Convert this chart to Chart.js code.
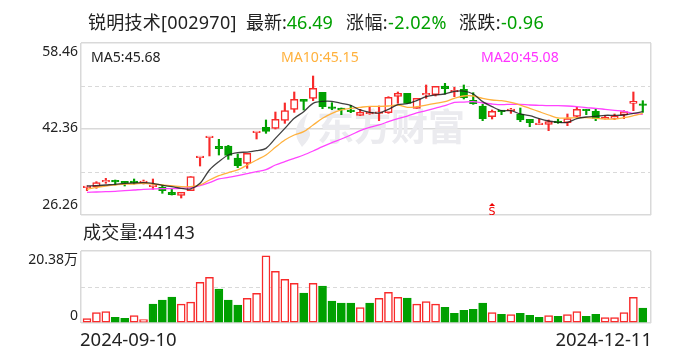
<!DOCTYPE html>
<html>
<head>
<meta charset="utf-8">
<title>锐明技术</title>
<script src="https://cdn.jsdelivr.net/npm/chart.js@4"></script>
<style>
  html, body { margin: 0; padding: 0; background: #fff; }
  #wrap { position: relative; width: 688px; height: 360px; overflow: hidden; font-family: "Noto Sans", "Noto Sans CJK SC", sans-serif; color: #222; }
  #wrap canvas { position: absolute; left: 0; }
  #wrap span.t { position: absolute; white-space: nowrap; line-height: 20px; }
  .big { font-size: 18px; }
  .small { font-size: 14.1px; }
  .down { color: #00a000; }
</style>
</head>
<body>
<div id="wrap">
  <canvas id="priceChart" width="688" height="225" style="top:0"></canvas>
  <canvas id="volumeChart" width="688" height="135" style="top:225px"></canvas>
  <span class="t big" style="left:88px;top:12px;letter-spacing:0.25px">锐明技术[002970]</span>
  <span class="t big" style="left:246px;top:12px">最新:<span class="down">46.49</span></span>
  <span class="t big" style="left:346px;top:12px;letter-spacing:0.4px">涨幅:<span class="down">-2.02%</span></span>
  <span class="t big" style="left:459px;top:12px;letter-spacing:0.35px">涨跌:<span class="down">-0.96</span></span>
  <span class="t small" style="left:91px;top:47px">MA5:45.68</span>
  <span class="t small" style="left:281px;top:47px;color:#ffb13d">MA10:45.15</span>
  <span class="t small" style="left:481px;top:47px;color:#ff33ff">MA20:45.08</span>
  <span class="t big" style="left:83px;top:222px;letter-spacing:0.2px">成交量:44143</span>
</div>
<script>
const dates = ['2024-09-10', '2024-12-11'];
const priceTicks = [58.46, 50.41, 42.36, 34.31, 26.26];
const priceLabels = ['58.46', '42.36', '26.26'];
const volumeTicks = [20.38, 10.19, 0];
const volumeLabels = ['20.38万', '0'];

const opens = [31.38, 31.57, 32.44, 32.56, 32.56, 32.50, 32.31, 31.57, 31.44, 30.50,
  29.94, 30.82, 36.99, 40.74, 39.12, 39.18, 36.93, 35.93, 41.67, 42.67,
  42.49, 43.98, 46.04, 47.91, 48.10, 49.22, 46.35, 46.29, 45.92, 44.92,
  45.17, 45.29, 45.42, 48.48, 49.04, 46.23, 48.73, 48.79, 50.41, 49.29,
  49.79, 47.73, 46.67, 44.67, 45.86, 45.79, 45.17, 44.17, 43.17, 43.23,
  43.73, 43.55, 44.73, 46.04, 45.67, 44.23, 44.36, 44.98, 47.17, 46.92];
const closes = [31.69, 32.31, 32.56, 32.44, 32.19, 32.31, 32.44, 31.69, 30.82, 30.07,
  30.50, 33.44, 37.12, 40.86, 38.68, 37.43, 35.50, 37.80, 41.80, 41.92,
  44.17, 45.79, 47.91, 47.54, 49.97, 46.54, 46.23, 45.92, 45.60, 45.48,
  45.54, 45.48, 48.29, 49.04, 47.17, 48.10, 48.85, 50.35, 49.91, 49.54,
  48.23, 47.10, 44.30, 45.67, 45.60, 45.92, 44.05, 43.55, 43.30, 43.73,
  43.55, 44.30, 46.04, 45.79, 44.36, 44.36, 44.73, 45.60, 47.54, 46.79];
const highs = [31.69, 32.50, 33.12, 32.81, 32.56, 33.00, 32.81, 33.00, 31.88, 31.13,
  30.50, 33.44, 37.12, 40.86, 40.43, 39.30, 37.68, 37.80, 41.80, 44.05,
  45.54, 47.23, 49.29, 47.91, 52.28, 49.22, 47.29, 46.29, 46.79, 46.04,
  46.54, 46.67, 48.41, 49.29, 49.04, 48.10, 50.60, 50.35, 50.91, 50.16,
  50.60, 49.16, 46.98, 45.92, 45.86, 46.23, 46.29, 44.17, 44.23, 44.05,
  44.17, 45.17, 46.42, 46.04, 46.04, 44.86, 45.17, 45.79, 49.29, 47.66];
const lows = [30.82, 31.26, 32.19, 31.88, 31.69, 32.06, 32.06, 31.07, 30.32, 30.00,
  29.44, 30.82, 35.43, 37.31, 37.49, 36.68, 35.12, 35.00, 40.49, 41.55,
  42.36, 43.42, 45.48, 45.92, 47.66, 46.17, 45.98, 45.04, 45.42, 44.86,
  45.11, 43.92, 45.29, 47.17, 47.17, 46.23, 48.10, 48.54, 48.91, 48.41,
  47.98, 46.98, 43.92, 44.23, 45.04, 45.29, 43.73, 42.80, 43.17, 42.05,
  43.42, 42.98, 44.67, 45.04, 43.92, 44.23, 44.11, 44.30, 45.79, 45.48];

const ma5 = [31.69, 31.75, 31.88, 32.00, 32.19, 32.25, 32.31, 32.19, 31.81, 31.57,
  31.25, 31.13, 32.19, 34.69, 36.25, 37.49, 37.93, 38.05, 38.30, 38.74,
  40.61, 42.48, 44.36, 45.60, 47.17, 47.54, 47.54, 47.17, 46.79, 45.92,
  45.48, 45.36, 46.04, 46.92, 47.10, 47.66, 48.41, 48.73, 48.91, 49.41,
  49.47, 48.91, 47.48, 46.54, 45.79, 45.79, 45.17, 44.86, 44.30, 43.86,
  43.61, 43.61, 44.30, 44.61, 44.73, 44.92, 44.92, 44.98, 45.29, 45.60];
const ma10 = [31.07, 31.44, 31.69, 31.88, 32.06, 32.06, 32.19, 32.06, 31.88, 31.75,
  31.57, 31.57, 31.88, 32.81, 33.62, 34.19, 34.69, 35.62, 36.56, 37.49,
  38.93, 40.30, 41.24, 41.86, 43.11, 44.36, 45.29, 45.92, 46.23, 46.42,
  46.60, 46.60, 46.67, 46.85, 46.42, 46.54, 46.85, 47.17, 47.48, 48.10,
  48.54, 48.54, 48.10, 47.79, 47.66, 47.35, 46.85, 46.23, 45.60, 44.98,
  44.42, 44.42, 44.48, 44.48, 44.36, 44.23, 44.23, 44.48, 44.86, 45.29];
const ma20 = [30.50, 30.57, 30.63, 30.69, 30.82, 30.94, 31.07, 31.13, 31.19, 31.19,
  31.25, 31.38, 31.75, 32.31, 33.00, 33.31, 33.62, 34.00, 34.37, 34.75,
  35.62, 36.25, 36.87, 37.49, 38.24, 39.05, 39.80, 40.49, 41.24, 42.05,
  42.67, 43.11, 43.73, 44.30, 44.79, 45.36, 45.79, 46.29, 46.73, 47.35,
  47.41, 47.48, 47.23, 47.04, 46.92, 46.98, 46.98, 46.85, 46.79, 46.73,
  46.73, 46.67, 46.54, 46.35, 46.23, 46.04, 45.85, 45.67, 45.29, 45.10];

const volumes = [1.24, 2.95, 3.24, 1.62, 1.33, 2.10, 0.95, 5.33, 6.47, 7.33,
  5.33, 5.90, 11.52, 12.95, 9.62, 6.47, 5.05, 6.95, 8.38, 19.04,
  14.66, 12.38, 11.23, 8.47, 11.23, 10.47, 6.19, 5.62, 5.62, 4.38,
  5.62, 6.95, 8.66, 7.24, 7.05, 5.33, 6.09, 5.33, 4.47, 2.76,
  3.62, 3.90, 5.62, 2.95, 2.48, 2.38, 2.76, 2.19, 1.62, 2.10,
  1.90, 2.38, 3.24, 1.90, 2.48, 1.52, 1.52, 2.95, 7.24, 4.19];
const volumeUp = [1, 1, 1, 0, 0, 1, 1, 0, 0, 0,
  1, 1, 1, 1, 0, 0, 0, 1, 1, 1,
  1, 1, 1, 0, 1, 0, 0, 0, 0, 1,
  0, 1, 1, 1, 0, 1, 1, 1, 0, 0,
  0, 0, 0, 1, 0, 1, 0, 0, 0, 1,
  0, 1, 1, 0, 0, 1, 1, 1, 1, 0];

const sellMarkIndex = 43;

const RED = '#f82a2a';
const GREEN = '#00a000';
const GRID = '#d9d9d9';
const xMin = -0.637;
const xMax = 59.87;
const labelFont = '"Noto Sans", "Noto Sans CJK SC", sans-serif';

const isUp = opens.map((o, i) => closes[i] >= o);

function xScale() {
  return {
    type: 'linear',
    min: xMin,
    max: xMax,
    offset: false,
    afterBuildTicks: (axis) => { axis.ticks = [{ value: xMin }, { value: xMax }]; },
    afterFit: (axis) => { axis.height = 0; },
    ticks: { display: false },
    border: { display: false },
    grid: { offset: false, color: GRID, lineWidth: 1.5, drawTicks: false },
  };
}

function yScale(min, max, ticks) {
  return {
    min: min,
    max: max,
    afterBuildTicks: (axis) => { axis.ticks = ticks.map((v) => ({ value: v })); },
    afterFit: (axis) => { axis.width = 0; },
    ticks: { display: false },
    border: {
      display: false,
      // ticks alternate solid / dashed like the original
      dash: (ctx) => (ctx.index % 2 ? [4, 3] : []),
    },
    grid: { color: GRID, lineWidth: (ctx) => (ctx.index % 2 ? 1 : 1.5), drawTicks: false },
  };
}

const watermarkPlugin = {
  id: 'watermark',
  beforeDatasetsDraw(chart) {
    const c = chart.ctx;
    c.save();
    c.fillStyle = '#ebebef';
    c.font = 'bold 37px ' + labelFont;
    c.textBaseline = 'middle';
    c.fillText('东方财富', 317, 130);
    c.beginPath();
    c.moveTo(309, 112);
    c.quadraticCurveTo(287, 128, 302, 147);
    c.quadraticCurveTo(317, 132, 304, 127);
    c.quadraticCurveTo(305, 118, 309, 112);
    c.fill();
    c.restore();
  },
};

const priceLabelPlugin = {
  id: 'priceLabels',
  afterDraw(chart) {
    const c = chart.ctx;
    c.save();
    c.fillStyle = '#222';
    c.font = '14px ' + labelFont;
    c.textAlign = 'right';
    c.textBaseline = 'middle';
    c.fillText(priceLabels[0], 78, 52);
    c.fillText(priceLabels[1], 78, 128);
    c.fillText(priceLabels[2], 78, 205);
    // small sell flag sitting on the bottom axis
    const x = chart.scales.x.getPixelForValue(sellMarkIndex);
    c.fillStyle = '#f00000';
    c.beginPath();
    c.moveTo(x, 203);
    c.lineTo(x + 3, 206);
    c.lineTo(x - 3, 206);
    c.fill();
    c.font = '11px "DejaVu Sans"';
    c.textAlign = 'center';
    c.textBaseline = 'alphabetic';
    c.fillText('S', x, 215);
    c.restore();
  },
};

const volumeLabelPlugin = {
  id: 'volumeLabels',
  afterDraw(chart) {
    const c = chart.ctx;
    c.save();
    c.fillStyle = '#222';
    c.font = '14px ' + labelFont;
    c.textAlign = 'right';
    c.textBaseline = 'middle';
    c.fillText(volumeLabels[0], 78, 35);
    c.fillText(volumeLabels[1], 78, 91);
    c.font = '18.5px ' + labelFont;
    c.textAlign = 'left';
    c.fillText(dates[0], 80, 116);
    c.textAlign = 'right';
    c.fillText(dates[1], 652, 116);
    c.restore();
  },
};

function lineSet(values, color) {
  return {
    type: 'line',
    order: 0,
    data: values.map((v, i) => ({ x: i, y: v })),
    borderColor: color,
    borderWidth: 1.3,
    pointRadius: 0,
    tension: 0.3,
  };
}

new Chart(document.getElementById('priceChart'), {
  type: 'bar',
  data: {
    datasets: [
      lineSet(ma5, 'rgba(30, 30, 30, 0.85)'),
      lineSet(ma10, '#ffb13d'),
      lineSet(ma20, '#ff44ff'),
      {
        order: 1,
        grouped: false,
        data: opens.map((o, i) => ({ x: i, y: [o, closes[i]] })),
        barThickness: 7.5,
        minBarLength: 1.6,
        backgroundColor: isUp.map((u) => (u ? '#fff' : GREEN)),
        borderColor: isUp.map((u) => (u ? RED : GREEN)),
        borderWidth: 1.5,
        borderSkipped: false,
      },
      {
        order: 2,
        grouped: false,
        data: lows.map((l, i) => ({ x: i, y: [l, highs[i]] })),
        barThickness: 1.5,
        backgroundColor: isUp.map((u) => (u ? RED : GREEN)),
      },
    ],
  },
  options: {
    responsive: false,
    animation: false,
    layout: { padding: { left: 81, right: 37, top: 43, bottom: 10 } },
    plugins: { legend: { display: false }, tooltip: { enabled: false } },
    scales: { x: xScale(), y: yScale(26.26, 58.46, priceTicks) },
  },
  plugins: [watermarkPlugin, priceLabelPlugin],
});

new Chart(document.getElementById('volumeChart'), {
  type: 'bar',
  data: {
    datasets: [{
      data: volumes.map((v, i) => ({ x: i, y: v })),
      barThickness: 8,
      backgroundColor: volumeUp.map((u) => (u ? '#fff' : GREEN)),
      borderColor: volumeUp.map((u) => (u ? RED : GREEN)),
      borderWidth: 1.5,
      borderSkipped: false,
    }],
  },
  options: {
    responsive: false,
    animation: false,
    layout: { padding: { left: 81, right: 37, top: 26, bottom: 37 } },
    plugins: { legend: { display: false }, tooltip: { enabled: false } },
    scales: { x: xScale(), y: yScale(0, 20.38, volumeTicks) },
  },
  plugins: [volumeLabelPlugin],
});
</script>
</body>
</html>
